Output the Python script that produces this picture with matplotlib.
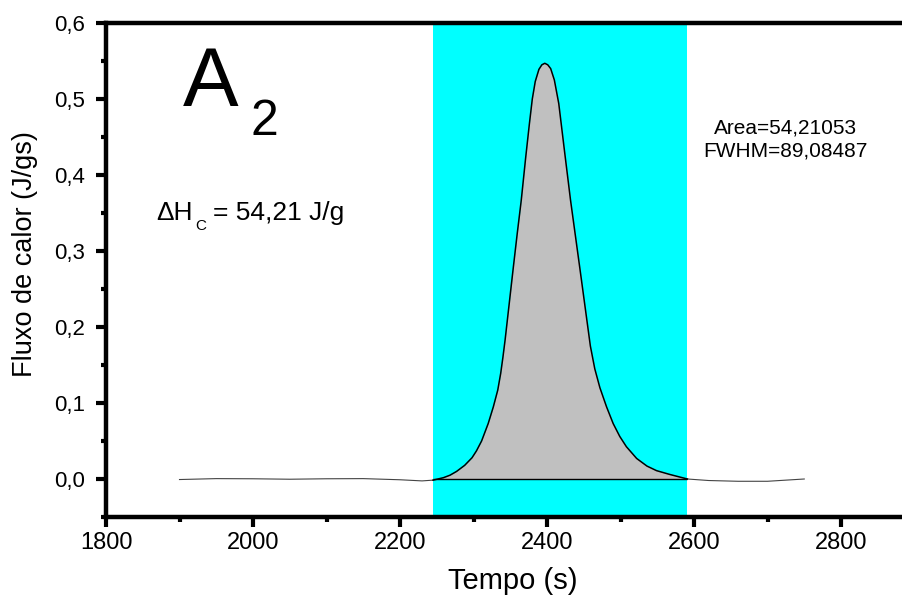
import numpy as np
import matplotlib
matplotlib.use("Agg")
import matplotlib.pyplot as plt
from matplotlib.ticker import MultipleLocator, FuncFormatter

# DSC crystallisation peak (heat flow vs time)
time_s = [1900, 1950, 2000, 2050, 2100, 2150, 2200, 2230, 2245, 2259, 2268,
          2277, 2288, 2298, 2304, 2311, 2320, 2327, 2333, 2337, 2340, 2343,
          2348.5, 2354, 2359.5, 2365, 2371, 2376, 2380, 2384, 2389, 2393,
          2397, 2401, 2405, 2410, 2416, 2424, 2432, 2446, 2459, 2465, 2472,
          2481, 2490, 2499, 2508, 2522, 2536, 2549, 2567, 2579, 2591, 2620,
          2660, 2700, 2750]
heat_flow = [-0.0007, 0.0005, 0.0003, -0.0003, 0.0003, 0.0005, -0.001, -0.0025,
             -0.0015, 0.0017, 0.005, 0.010, 0.018, 0.028, 0.037, 0.050, 0.073,
             0.095, 0.117, 0.139, 0.160, 0.183, 0.230, 0.277, 0.323, 0.367,
             0.423, 0.467, 0.500, 0.523, 0.539, 0.545, 0.547, 0.545, 0.540,
             0.525, 0.494, 0.430, 0.367, 0.268, 0.175, 0.145, 0.120, 0.095,
             0.073, 0.056, 0.0425, 0.027, 0.017, 0.011, 0.006, 0.003, 0.0,
             -0.002, -0.003, -0.003, 0.0]

# integration limits of the peak
peak_start, peak_end = 2245, 2591

x_ticks = [1800, 2000, 2200, 2400, 2600, 2800]
y_ticks = [0.0, 0.1, 0.2, 0.3, 0.4, 0.5, 0.6]

area_label = "Area=54,21053"
fwhm_label = "FWHM=89,08487"
enthalpy_value = "= 54,21 J/g"

FONT = ["Liberation Sans", "DejaVu Sans"]
plt.rcParams["font.family"] = FONT

t = np.array(time_s)
q = np.array(heat_flow)

fig = plt.figure(figsize=(9.02, 5.96), dpi=100)
ax = fig.add_axes([106 / 902, 79 / 596, 808.5 / 902, 494 / 596])
ax.set_xlim(1800, 2900)
ax.set_ylim(-0.05, 0.6)

# integration window
ax.axvspan(peak_start, peak_end, color="#00FFFF", zorder=0, lw=0)

# integrated area
inside = (t >= peak_start) & (t <= peak_end)
ax.fill_between(t[inside], q[inside], 0, where=q[inside] >= 0, interpolate=True,
                color="#C0C0C0", lw=0, zorder=1)
ax.hlines(0, peak_start, peak_end, color="black", lw=1.0, zorder=2)

# measured curve
left = t <= peak_start
right = t >= peak_end
ax.plot(t[left], q[left], color="#444444", lw=0.8, zorder=3)
ax.plot(t[right], q[right], color="#444444", lw=0.8, zorder=3)
ax.plot(t[inside], q[inside], color="black", lw=1.1, zorder=3)

# axes styling
for side in ("left", "bottom", "top"):
    ax.spines[side].set_linewidth(3.2)
ax.spines["right"].set_visible(False)

ax.xaxis.set_minor_locator(MultipleLocator(100))
ax.yaxis.set_minor_locator(MultipleLocator(0.05))
ax.set_xticks(x_ticks)
ax.set_yticks(y_ticks)
ax.yaxis.set_major_formatter(FuncFormatter(lambda v, p: f"{v:.1f}".replace(".", ",")))
ax.tick_params(which="major", direction="out", length=7, width=3)
ax.tick_params(axis="x", which="major", labelsize=17, pad=4)
ax.tick_params(axis="y", which="major", labelsize=16, pad=8)
ax.tick_params(which="minor", direction="out", length=3.5, width=3)
ax.tick_params(top=False, right=False, which="both")

ax.set_xlabel("Tempo (s)", fontsize=21)
ax.set_ylabel("Fluxo de calor (J/gs)", fontsize=19.5)
ax.xaxis.set_label_coords(0.5035, -0.101)
ax.yaxis.set_label_coords(-0.084, 0.532)

# panel label
ax.text(1905, 0.491, "A", fontsize=60, ha="left", va="baseline")
ax.text(1997, 0.453, "2", fontsize=36, ha="left", va="baseline")

# enthalpy
ax.text(1869, 0.341, "\u0394H", fontsize=19, ha="left", va="baseline")
ax.text(1922, 0.328, "C", fontsize=11, ha="left", va="baseline")
ax.text(1945, 0.341, enthalpy_value, fontsize=19, ha="left", va="baseline")

# peak fit results
ax.text(2725, 0.455, area_label, fontsize=15, ha="center", va="baseline")
ax.text(2725, 0.424, fwhm_label, fontsize=15, ha="center", va="baseline")

fig.savefig("out.png", dpi=100)
